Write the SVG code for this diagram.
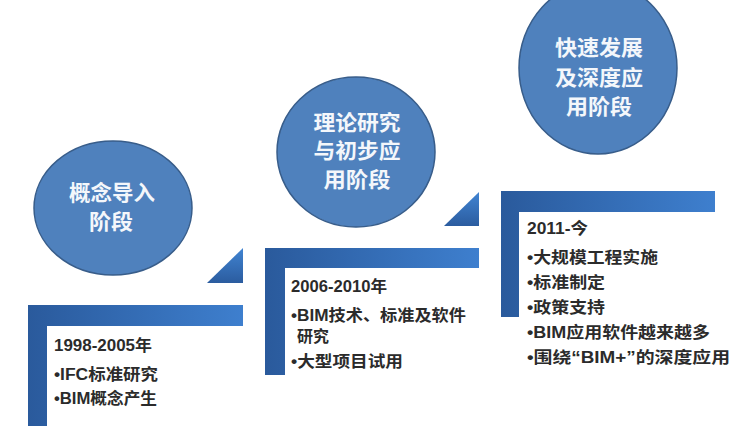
<svg xmlns="http://www.w3.org/2000/svg" width="746" height="426" viewBox="0 0 746 426">
<defs>
<linearGradient id="gL" x1="0" y1="0" x2="1" y2="0">
<stop offset="0" stop-color="#2a5a9c"/>
<stop offset="1" stop-color="#3e7fce"/>
</linearGradient>
<linearGradient id="gT" x1="0" y1="0" x2="0" y2="1">
<stop offset="0" stop-color="#4184d2"/>
<stop offset="1" stop-color="#2b5c9f"/>
</linearGradient>
<style>
.c{fill:#4f81bd;stroke:#385d8a;stroke-width:1.5}
.ct{font-family:"Noto Sans CJK SC","Liberation Sans",sans-serif;font-size:21px;font-weight:bold;fill:#f4f7fb;text-anchor:middle}
.bar{fill:url(#gL)}
.tri{fill:url(#gT)}
.t{font-family:"Liberation Sans","Noto Sans CJK SC",sans-serif;font-size:16px;font-weight:bold;fill:#2b2b2b}
</style>
</defs>
<rect width="746" height="426" fill="#ffffff"/>
<g id="node-stage1">
<ellipse class="c" cx="113" cy="208" rx="79" ry="67"/>
<text class="ct" x="112" y="200" textLength="86" lengthAdjust="spacingAndGlyphs">概念导入</text>
<text class="ct" x="111" y="229" textLength="44" lengthAdjust="spacingAndGlyphs">阶段</text>
</g>
<g id="node-stage2">
<ellipse class="c" cx="356" cy="152" rx="79" ry="75"/>
<text class="ct" x="357" y="130" textLength="87" lengthAdjust="spacingAndGlyphs">理论研究</text>
<text class="ct" x="357" y="158" textLength="87" lengthAdjust="spacingAndGlyphs">与初步应</text>
<text class="ct" x="357" y="187" textLength="67" lengthAdjust="spacingAndGlyphs">用阶段</text>
</g>
<g id="node-stage3">
<ellipse class="c" cx="598" cy="68" rx="79" ry="86"/>
<text class="ct" x="599" y="55" textLength="88" lengthAdjust="spacingAndGlyphs">快速发展</text>
<text class="ct" x="599" y="85" textLength="88" lengthAdjust="spacingAndGlyphs">及深度应</text>
<text class="ct" x="599" y="114" textLength="66" lengthAdjust="spacingAndGlyphs">用阶段</text>
</g>
<g id="connectors">
<polygon class="tri" points="207,283 243,283 243,248"/>
<polygon class="tri" points="444,226 479,226 479,192"/>
</g>
<g id="node-period1">
<path class="bar" d="M28,305 H243 V326 H47 V426 H28 Z"/>
<text class="t" x="54" y="351" textLength="98" lengthAdjust="spacingAndGlyphs">1998-2005年</text>
<text class="t" x="54" y="380" textLength="104" lengthAdjust="spacingAndGlyphs">•IFC标准研究</text>
<text class="t" x="54" y="404" textLength="103" lengthAdjust="spacingAndGlyphs">•BIM概念产生</text>
</g>
<g id="node-period2">
<path class="bar" d="M265,248 H479 V268 H285 V375 H265 Z"/>
<text class="t" x="291" y="292" textLength="96" lengthAdjust="spacingAndGlyphs">2006-2010年</text>
<text class="t" x="291" y="321" textLength="175" lengthAdjust="spacingAndGlyphs">•BIM技术、标准及软件</text>
<text class="t" x="297" y="342" textLength="32" lengthAdjust="spacingAndGlyphs">研究</text>
<text class="t" x="291" y="367" textLength="112" lengthAdjust="spacingAndGlyphs">•大型项目试用</text>
</g>
<g id="node-period3">
<path class="bar" d="M501,191 H715 V212 H519 V317 H501 Z"/>
<text class="t" x="527" y="234" textLength="61" lengthAdjust="spacingAndGlyphs">2011-今</text>
<text class="t" x="527" y="263" textLength="131" lengthAdjust="spacingAndGlyphs">•大规模工程实施</text>
<text class="t" x="527" y="288" textLength="78" lengthAdjust="spacingAndGlyphs">•标准制定</text>
<text class="t" x="527" y="313" textLength="78" lengthAdjust="spacingAndGlyphs">•政策支持</text>
<text class="t" x="527" y="338" textLength="183" lengthAdjust="spacingAndGlyphs">•BIM应用软件越来越多</text>
<text class="t" x="527" y="363" textLength="203" lengthAdjust="spacingAndGlyphs">•围绕“BIM+”的深度应用</text>
</g>
</svg>
